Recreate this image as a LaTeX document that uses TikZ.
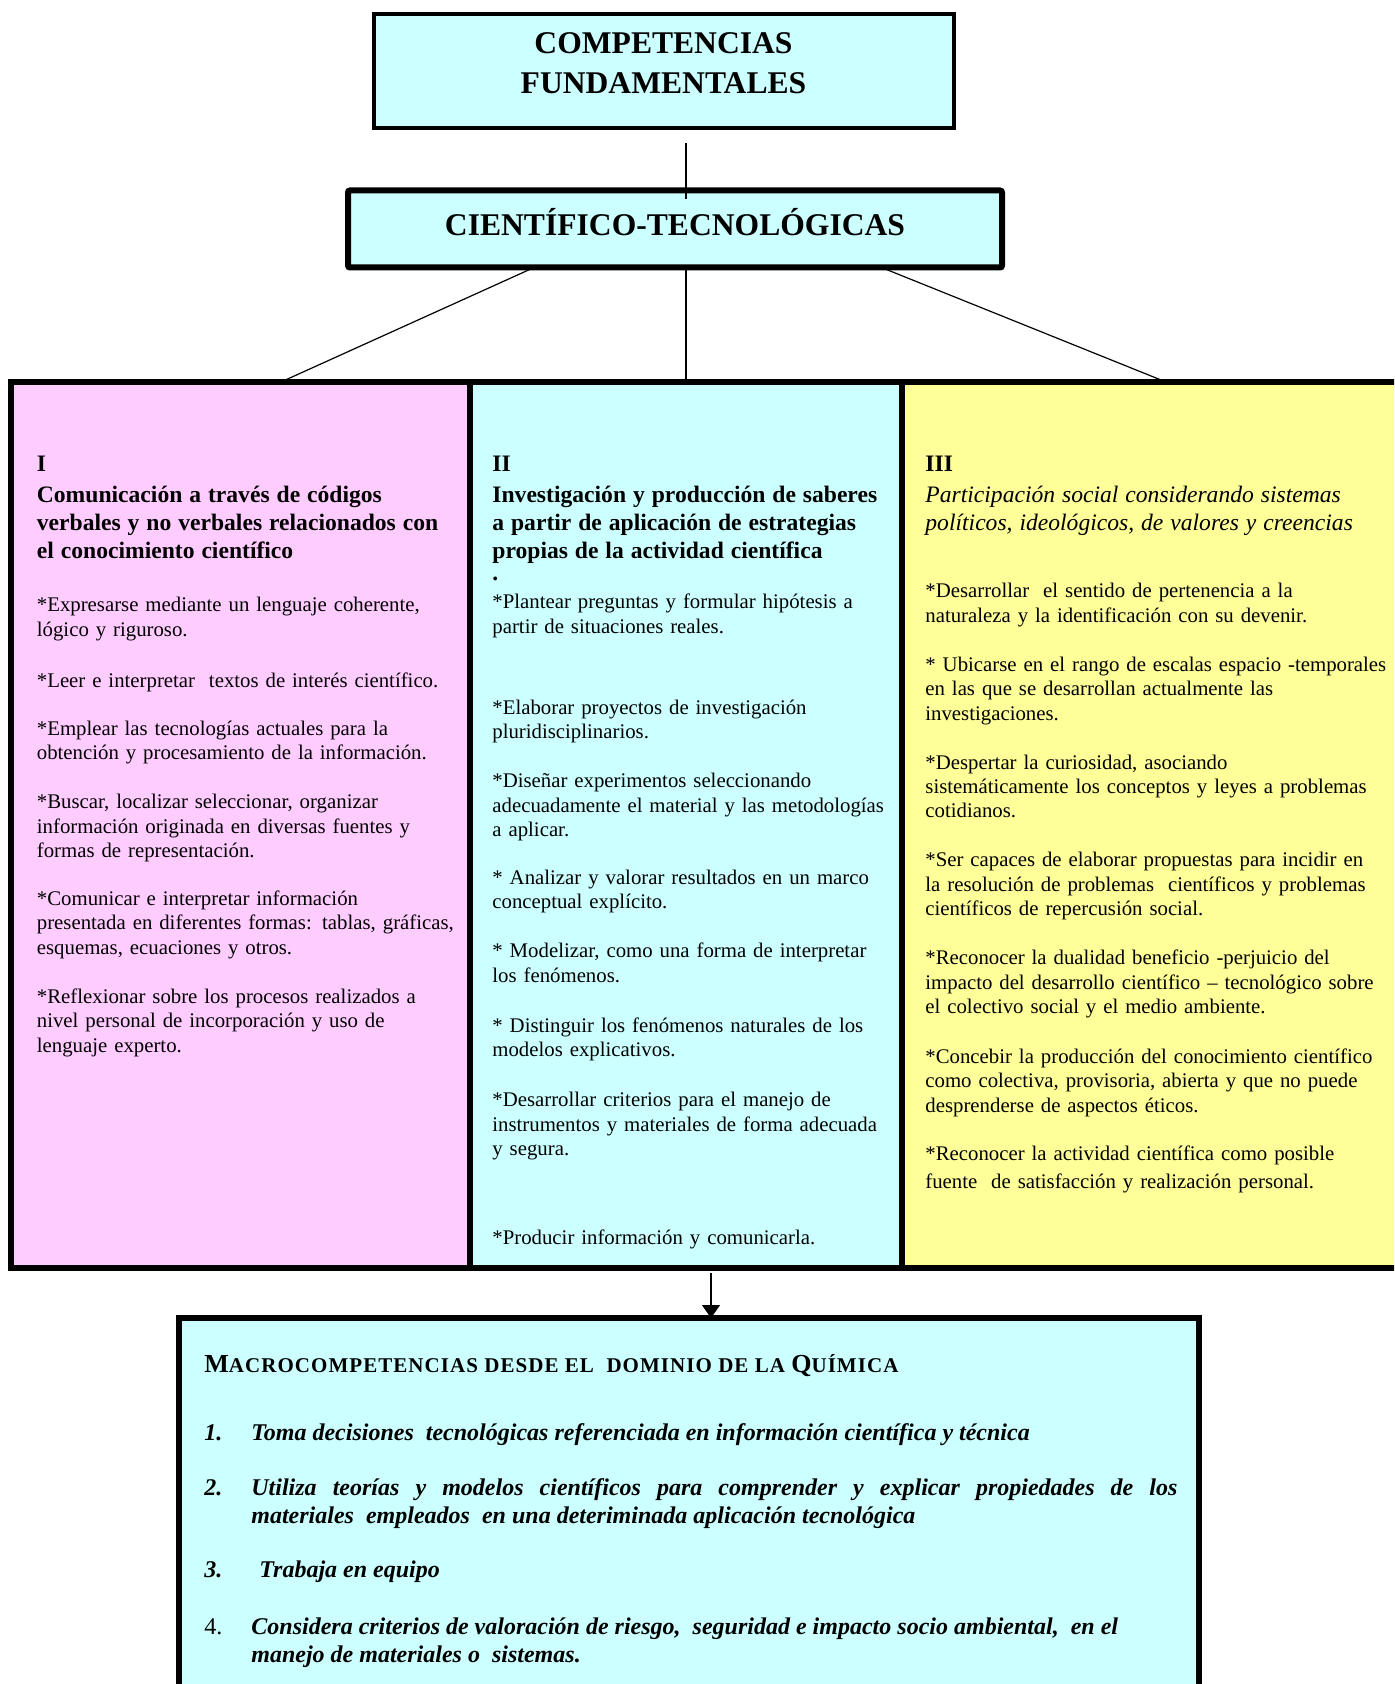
\documentclass[tikz,border=0pt]{standalone}
\usepackage{fontspec}
\setmainfont{Liberation Serif}
\newfontfamily\spacedserif[LetterSpace=5]{Liberation Serif}
\usetikzlibrary{arrows.meta, positioning}
\definecolor{boxcyan}{RGB}{204, 255, 255}
\definecolor{boxpink}{RGB}{255, 204, 255}
\definecolor{boxyellow}{RGB}{255, 255, 153}
\newcommand{\bodyfont}{\fontsize{10.4}{12.2}\selectfont}
\newcommand{\headfont}{\fontsize{11.8}{14}\selectfont}
\newcommand{\macrofont}{\fontsize{12}{14}\selectfont\bfseries\itshape}
\newcommand{\macronum}[1]{\noindent\hangindent=23.5pt\hangafter=1\makebox[23.5pt][l]{#1}}

\tikzset{
  titlebox/.style={draw, fill=boxcyan, outer sep=0pt},
  titletext/.style={align=center, inner sep=0pt, font=\fontsize{15.8}{20}\selectfont\bfseries},
  colbox/.style={draw, line width=3pt, anchor=north west, outer sep=0pt, inner sep=0pt, minimum height=443pt},
  coltext/.style={anchor=north west, inner sep=0pt, align=left, text width=240pt, font=\bodyfont},
  link/.style={line width=0.6pt},
}

\begin{document}
\begin{tikzpicture}[x=0.5pt, y=-0.5pt]
    \useasboundingbox (0,0) rectangle (1394,1684);
    \clip (0,0) rectangle (1394,1684);

    % top boxes
    \node[titlebox, line width=2pt, minimum width=290pt, minimum height=57pt] (fund) at (663.5,71) {};
    \node[titletext] (fundtxt) at ([yshift=3.75pt]fund.center) {COMPETENCIAS\\FUNDAMENTALES};
    \node[titlebox, line width=3pt, rounded corners=1pt, minimum width=327pt, minimum height=38.5pt] (cient) at (675,229) {};
    \node[titletext] (cienttxt) at ([yshift=3.5pt]cient.center) {CIENTÍFICO-TECNOLÓGICAS};

    % three columns
    \node[colbox, fill=boxpink, minimum width=229.5pt] (col1) at (11,382) {};
    \node[colbox, fill=boxcyan, minimum width=216pt, anchor=west, right=0pt of col1] (col2) {};
    \node[colbox, fill=boxyellow, minimum width=264pt, anchor=west, right=0pt of col2] (col3) {};

    \node[coltext] (col1txt) at (36.5,456) {%
        {\headfont\bfseries I\par}\vspace{1.5pt}
        {\headfont\bfseries Comunicación a través de códigos\\verbales y no verbales relacionados con\\el conocimiento científico\par}\vspace{14.3pt}
        *Expresarse mediante un lenguaje coherente,\\lógico y riguroso.\par\vspace{13.3pt}
        *Leer e interpretar\ \ textos de interés científico.\par\vspace{11.8pt}
        *Emplear las tecnologías actuales para la\\obtención y procesamiento de la información.\par\vspace{12.3pt}
        *Buscar, localizar seleccionar, organizar\\información originada en diversas fuentes y\\formas de representación.\par\vspace{11.8pt}
        *Comunicar e interpretar información\\presentada en diferentes formas: tablas, gráficas,\\esquemas, ecuaciones y otros.\par\vspace{12.3pt}
        *Reflexionar sobre los procesos realizados a\\nivel personal de incorporación y uso de\\lenguaje experto.\par};

    \node[coltext] (col2txt) at (492,456) {%
        {\headfont\bfseries II\par}\vspace{1.5pt}
        {\headfont\bfseries Investigación y producción de saberes\\a partir de aplicación de estrategias\\propias de la actividad científica\\[-3pt].\par}\vspace{1.8pt}
        *Plantear preguntas y formular hipótesis a\\partir de situaciones reales.\par\vspace{28.3pt}
        *Elaborar proyectos de investigación\\pluridisciplinarios.\par\vspace{12.3pt}
        *Diseñar experimentos seleccionando\\adecuadamente el material y las metodologías\\a aplicar.\par\vspace{11.8pt}
        * Analizar y valorar resultados en un marco\\conceptual explícito.\par\vspace{12.3pt}
        * Modelizar, como una forma de interpretar\\los fenómenos.\par\vspace{12.8pt}
        * Distinguir los fenómenos naturales de los\\modelos explicativos.\par\vspace{12.8pt}
        *Desarrollar criterios para el manejo de\\instrumentos y materiales de forma adecuada\\y segura.\par\vspace{32.3pt}
        *Producir información y comunicarla.\par};

    \node[coltext] (col3txt) at (925,456) {%
        {\headfont\bfseries III\par}\vspace{1.5pt}
        {\headfont\itshape Participación social considerando sistemas\\políticos, ideológicos, de valores y creencias\par}\vspace{21.3pt}
        *Desarrollar\ \ el sentido de pertenencia a la\\naturaleza y la identificación con su devenir.\par\vspace{12.3pt}
        * Ubicarse en el rango de escalas espacio -temporales\\en las que se desarrollan actualmente las\\investigaciones.\par\vspace{12.3pt}
        *Despertar la curiosidad, asociando\\sistemáticamente los conceptos y leyes a problemas\\cotidianos.\par\vspace{12.3pt}
        *Ser capaces de elaborar propuestas para incidir en\\la resolución de problemas\ \ científicos y problemas\\científicos de repercusión social.\par\vspace{12.3pt}
        *Reconocer la dualidad beneficio -perjuicio del\\impacto del desarrollo científico -- tecnológico sobre\\el colectivo social y el medio ambiente.\par\vspace{12.8pt}
        *Concebir la producción del conocimiento científico\\como colectiva, provisoria, abierta y que no puede\\desprenderse de aspectos éticos.\par\vspace{11.8pt}
        *Reconocer la actividad científica como posible\\[1.8pt]fuente\ \ de satisfacción y realización personal.\par};

    % bottom box
    \node[colbox, fill=boxcyan, minimum width=510pt, minimum height=250pt] (macro) at (179,1318) {};
    \node[coltext, align=justify, text width=486.5pt] (macrotxt) at (204,1354) {%
        {\spacedserif\bfseries{\fontsize{13}{15}\selectfont M}\fontsize{10.5}{15}\selectfont ACROCOMPETENCIAS DESDE EL\ \ DOMINIO DE LA {\fontsize{13}{15}\selectfont Q}UÍMICA\par}\vspace{20pt}
        {\macrofont
        \macronum{1.}Toma decisiones\ \ tecnológicas referenciada en información científica y técnica\par\vspace{13.4pt}
        \macronum{2.}Utiliza teorías y modelos científicos para comprender y explicar propiedades de los\linebreak materiales\ \ empleados\ \ en una deteriminada aplicación tecnológica\par\vspace{13.2pt}
        \macronum{3.}\hspace*{4pt}Trabaja en equipo\par\vspace{14.6pt}
        \macronum{\normalfont\fontsize{12}{14}\selectfont 4.}Considera criterios de valoración de riesgo,\ \ seguridad e impacto socio ambiental,\ \ en el\newline manejo de materiales o\ \ sistemas.\par}};

    % connectors
    \draw[link] ([yshift=-7.5pt]fund.south -| col2.north) -- ([yshift=-4.5pt]cient.north -| col2.north);
    \draw[link] ([shift={(-68.25pt,1pt)}]cient.south) -- ([xshift=20.25pt]col1.north);
    \draw[link] ([yshift=1pt]cient.south -| col2.north) -- (col2.north);
    \draw[link] ([shift={(100.75pt,1pt)}]cient.south) -- (col3.north);
    \coordinate (drop) at ([shift={(12.5pt,-2.5pt)}]col2.south);
    \draw[link, -{Triangle[width=9pt, length=6.5pt]}] (drop) -- (drop |- macro.north);
\end{tikzpicture}
\end{document}
